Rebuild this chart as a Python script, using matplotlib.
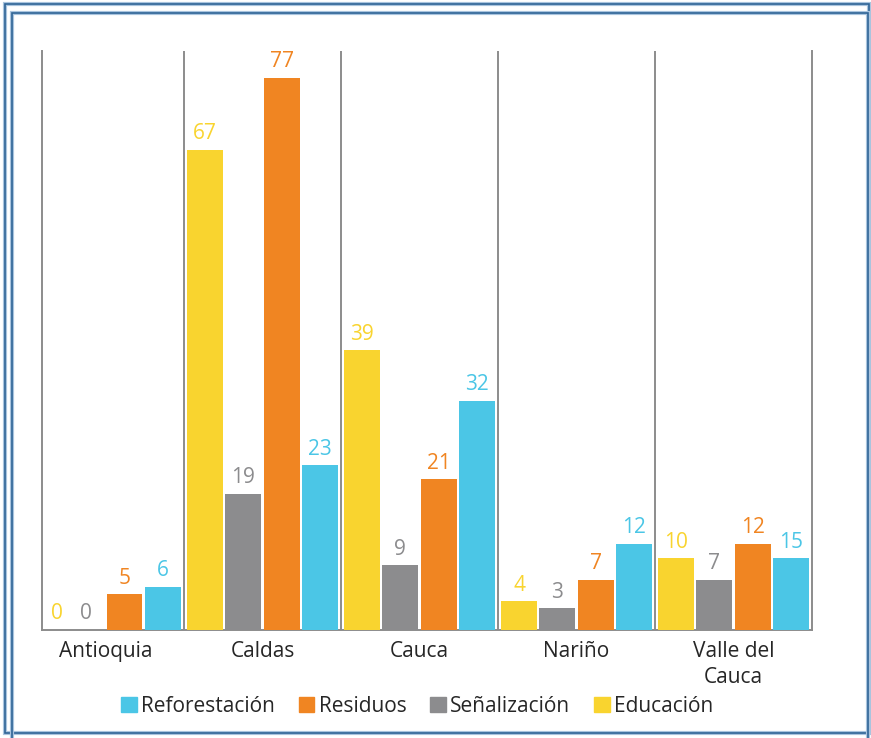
#!/usr/bin/python3

import matplotlib as mpl
mpl.use("Agg")
import matplotlib.pyplot as plt
from matplotlib.patches import Patch, Rectangle



departments = ["Antioquia", "Caldas", "Cauca", "Nariño", "Valle del\nCauca"]
educacion = [0, 67, 39, 4, 10]
senalizacion = [0, 19, 9, 3, 7]
residuos = [5, 77, 21, 7, 12]
# the source draws the Valle del Cauca bar at 10 but labels it 15
reforestacion = [6, 23, 32, 12, 10]
reforestacionLabels = ["6", "23", "32", "12", "15"]

seriesNames = ["Educación", "Señalización", "Residuos", "Reforestación"]
legendOrder = ["Reforestación", "Residuos", "Señalización", "Educación"]

colors = {
  "Educación": "#F9D42F",
  "Señalización": "#8C8C8E",
  "Residuos": "#F08522",
  "Reforestación": "#4BC6E6",
}



def pxRect(fig, x0, y0, x1, y1, **kw):
  W, H = 871.0, 738.0
  return Rectangle((x0 / W, 1 - y1 / H), (x1 - x0) / W, (y1 - y0) / H,
      transform=fig.transFigure, fill=False, **kw)

def main():
  plt.rcParams["font.family"] = ["Open Sans", "DejaVu Sans"]
  plt.rcParams["font.weight"] = 500

  fig = plt.figure(figsize=(8.71, 7.38), dpi=100)
  ax = fig.add_axes([42 / 871, 108 / 738, 770 / 871, 579 / 738])

  values = [educacion, senalizacion, residuos, reforestacion]
  labels = [[str(v) for v in educacion], [str(v) for v in senalizacion],
      [str(v) for v in residuos], reforestacionLabels]
  barWidth = 0.229
  step = 0.243
  offsets = [-1.5 * step, -0.5 * step, 0.5 * step, 1.5 * step]
  xs = list(range(len(departments)))

  for name, vals, labs, off in zip(seriesNames, values, labels, offsets):
    bars = ax.bar([x + off for x in xs], vals, barWidth, color=colors[name], label=name, zorder=3)
    texts = ax.bar_label(bars, labels=labs, padding=4, color=colors[name], fontsize=15)
    # zero label of the first bar sits inside the axis in the source
    if name == "Educación":
      texts[0].xyann = (6.5, 4)

  ax.set_xlim(-0.404, 4.5)
  ax.set_ylim(0, 80.75)

  for b in [0.5, 1.5, 2.5, 3.5]:
    ax.axvline(b, color="#8c8c8c", lw=1.4, zorder=2)

  ax.spines["top"].set_visible(False)
  for side in ["left", "right", "bottom"]:
    ax.spines[side].set_color("#8c8c8c")
    ax.spines[side].set_linewidth(1.4)

  ax.set_yticks([])
  ax.set_xticks(xs)
  ax.set_xticklabels(departments, fontsize=15, color="#262626", linespacing=1.3)
  ax.tick_params(axis="x", length=0, pad=8)

  handles = [Patch(color=colors[n], label=n) for n in legendOrder]
  fig.legend(handles=handles, loc="center", bbox_to_anchor=(0.479, 32 / 738), ncol=4,
      frameon=False, fontsize=15, handlelength=0.75, handleheight=0.75,
      handletextpad=0.2, columnspacing=1.15, labelcolor="#262626")

  for r in [(5, 4, 869, 733), (12, 13, 868, 742)]:
    fig.patches.append(pxRect(fig, *r, edgecolor="#a9c4de", lw=3.0))
    fig.patches.append(pxRect(fig, *r, edgecolor="#2f6496", lw=1.2))

  fig.savefig("out.png", dpi=100)



if __name__ == "__main__":
  main()
